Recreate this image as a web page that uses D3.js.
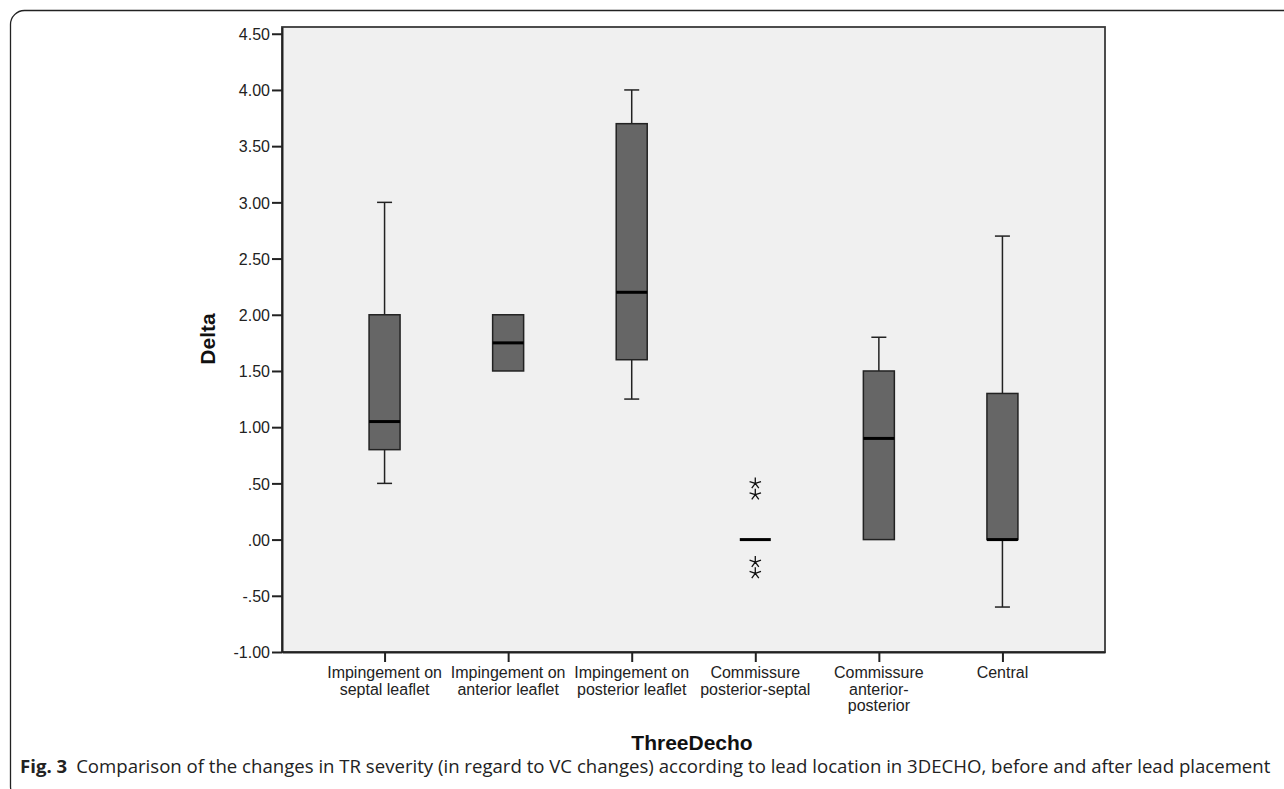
<!DOCTYPE html>
<html>
<head>
<meta charset="utf-8">
<script src="https://cdn.jsdelivr.net/npm/d3@7"></script>
<style>
  body { margin: 0; background: #fff; }
  svg { display: block; }
</style>
</head>
<body>
<svg width="1284" height="789"></svg>
<script>
const width = 1284;
const height = 789;

// categories (label lines)
const categories = ["septal", "anterior", "posterior", "commPS", "commAP", "central"];
const categoryLabels = [
    ["Impingement on", "septal leaflet"],
    ["Impingement on", "anterior leaflet"],
    ["Impingement on", "posterior leaflet"],
    ["Commissure", "posterior-septal"],
    ["Commissure", "anterior-", "posterior"],
    ["Central"],
];
// box stats (null = not drawn)
const whiskerLow = [0.5, null, 1.25, null, null, -0.6];
const q1 = [0.8, 1.5, 1.6, 0.0, 0.0, 0.0];
const median = [1.05, 1.75, 2.2, 0.0, 0.9, 0.0];
const q3 = [2.0, 2.0, 3.7, 0.0, 1.5, 1.3];
const whiskerHigh = [3.0, null, 4.0, null, 1.8, 2.7];
// extreme outliers (asterisks)
const outliers = [
    { cat: "commPS", value: 0.5 },
    { cat: "commPS", value: 0.4 },
    { cat: "commPS", value: -0.2 },
    { cat: "commPS", value: -0.3 },
];
const yTicks = [-1, -0.5, 0, 0.5, 1, 1.5, 2, 2.5, 3, 3.5, 4, 4.5];

const svg = d3.select("svg");
const plotLeft = 282, plotRight = 1105, plotTop = 27, plotBottom = 652;
const sans = "'Liberation Sans', Arial, Helvetica, sans-serif";

// frame
svg.append("rect")
    .attr("x", 10.5).attr("y", 10.5)
    .attr("width", 1320).attr("height", 790)
    .attr("rx", 14)
    .attr("fill", "none")
    .attr("stroke", "#222")
    .attr("stroke-width", 1.3);

const x = d3.scalePoint()
    .domain(categories)
    .range([plotLeft, plotRight])
    .padding(0.83);
const y = d3.scaleLinear()
    .domain([-1, 4.56])
    .range([plotBottom, plotTop]);

svg.append("rect")
    .attr("x", plotLeft).attr("y", plotTop)
    .attr("width", plotRight - plotLeft).attr("height", plotBottom - plotTop)
    .attr("fill", "#f0f0f0")
    .attr("stroke", "#3a3a3a")
    .attr("stroke-width", 1.8);

// axes
const yAxis = d3.axisLeft(y)
    .tickValues(yTicks)
    .tickSize(10)
    .tickSizeOuter(0)
    .tickPadding(2)
    .tickFormat((d) => {
        const s = d3.format(".2f")(Math.abs(d)).replace(/^0\./, ".");
        return (d < 0 ? "-" : "") + s;
    });
svg.append("g")
    .attr("transform", `translate(${plotLeft},0)`)
    .call(yAxis)
    .call((g) => g.select(".domain").attr("stroke", "#222").attr("stroke-width", 2))
    .call((g) => g.selectAll(".tick line").attr("stroke", "#222").attr("stroke-width", 2))
    .call((g) => g.selectAll(".tick text")
        .attr("fill", "#222")
        .attr("font-family", sans)
        .attr("font-size", 16)
        .attr("dy", "0.36em"));

const xAxis = d3.axisBottom(x).tickSize(10).tickSizeOuter(0).tickFormat("");
svg.append("g")
    .attr("transform", `translate(0,${plotBottom})`)
    .call(xAxis)
    .call((g) => g.select(".domain").attr("stroke", "#222").attr("stroke-width", 2))
    .call((g) => g.selectAll(".tick line").attr("stroke", "#222").attr("stroke-width", 2));

categories.forEach((c, i) => {
    const t = svg.append("text")
        .attr("x", x(c))
        .attr("y", 678)
        .attr("text-anchor", "middle")
        .attr("fill", "#222")
        .attr("font-family", sans)
        .attr("font-size", 16);
    categoryLabels[i].forEach((line, k) => {
        t.append("tspan").attr("x", x(c)).attr("dy", k === 0 ? 0 : 16.5).text(line);
    });
});

// axis titles
svg.append("text")
    .attr("transform", `translate(215,${339}) rotate(-90)`)
    .attr("text-anchor", "middle")
    .attr("font-family", sans)
    .attr("font-weight", "bold")
    .attr("font-size", 21)
    .attr("fill", "#111")
    .text("Delta");
svg.append("text")
    .attr("x", 692)
    .attr("y", 750)
    .attr("text-anchor", "middle")
    .attr("font-family", sans)
    .attr("font-weight", "bold")
    .attr("font-size", 21)
    .attr("fill", "#111")
    .text("ThreeDecho");

// boxes
const boxW = 31, capW = 15;
const g = svg.append("g");
categories.forEach((c, i) => {
    const cx = x(c);
    const line = (x1, y1, x2, y2, w = 1.5, col = "#222") =>
        g.append("line").attr("x1", x1).attr("y1", y1).attr("x2", x2).attr("y2", y2)
            .attr("stroke", col).attr("stroke-width", w);
    if (whiskerHigh[i] != null) {
        line(cx, y(whiskerHigh[i]), cx, y(q3[i]));
        line(cx - capW / 2, y(whiskerHigh[i]), cx + capW / 2, y(whiskerHigh[i]));
    }
    if (whiskerLow[i] != null) {
        line(cx, y(q1[i]), cx, y(whiskerLow[i]));
        line(cx - capW / 2, y(whiskerLow[i]), cx + capW / 2, y(whiskerLow[i]));
    }
    if (q3[i] > q1[i]) {
        g.append("rect")
            .attr("x", cx - boxW / 2).attr("y", y(q3[i]))
            .attr("width", boxW).attr("height", y(q1[i]) - y(q3[i]))
            .attr("fill", "#666")
            .attr("stroke", "#222")
            .attr("stroke-width", 1.5);
    }
    line(cx - boxW / 2, y(median[i]), cx + boxW / 2, y(median[i]), 3, "#000");
});

// asterisk marker
const star = (r) => {
    let p = "";
    for (let k = 0; k < 5; k++) {
        const a = -Math.PI / 2 + k * 2 * Math.PI / 5;
        p += `M0,0L${(r * Math.cos(a)).toFixed(2)},${(r * Math.sin(a)).toFixed(2)}`;
    }
    return p;
};
g.selectAll("path.out")
    .data(outliers)
    .join("path")
    .attr("class", "out")
    .attr("transform", (d) => `translate(${x(d.cat)},${y(d.value)})`)
    .attr("d", star(6))
    .attr("fill", "none")
    .attr("stroke", "#111")
    .attr("stroke-width", 1.3);

// caption
const cap = svg.append("text")
    .attr("x", 20)
    .attr("y", 773)
    .attr("fill", "#222")
    .attr("font-family", "'Open Sans', 'Noto Sans', sans-serif")
    .attr("font-size", 18.6);
cap.append("tspan").attr("font-weight", "bold").text("Fig. 3");
cap.append("tspan").attr("dx", 9)
    .text("Comparison of the changes in TR severity (in regard to VC changes) according to lead location in 3DECHO, before and after lead placement");
</script>
</body>
</html>
